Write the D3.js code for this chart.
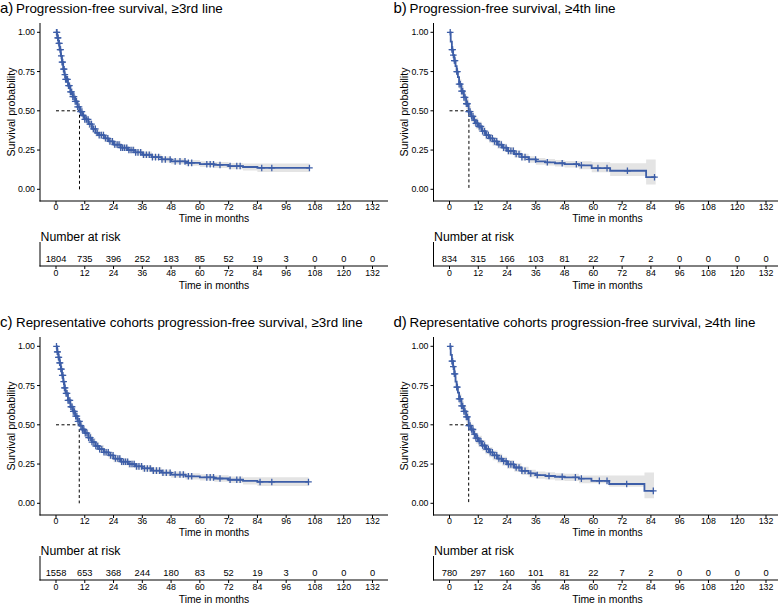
<!DOCTYPE html>
<html><head><meta charset="utf-8">
<script src="https://cdn.jsdelivr.net/npm/d3@7"></script>
<style>
html,body{margin:0;padding:0;background:#fff;}
svg{display:block;font-family:"Liberation Sans",Arial,Helvetica,sans-serif;}
</style></head>
<body>
<script>
// ---------- data ----------
const months = [0,12,24,36,48,60,72,84,96,108,120,132];
const yTicks = [0,0.25,0.5,0.75,1];
const yTickLabels = ["0.00","0.25","0.50","0.75","1.00"];

const panelLabels = ["a)","b)","c)","d)"];
const panelTitles = [
  "Progression-free survival, \u22653rd line",
  "Progression-free survival, \u22654th line",
  "Representative cohorts progression-free survival, \u22653rd line",
  "Representative cohorts progression-free survival, \u22654th line"
];

const riskA = [1804,735,396,252,183,85,52,19,3,0,0,0];
const riskB = [834,315,166,103,81,22,7,2,0,0,0,0];
const riskC = [1558,653,368,244,180,83,52,19,3,0,0,0];
const riskD = [780,297,160,101,81,22,7,2,0,0,0,0];

const medians = [9.8, 8.1, 9.7, 8.0];

const timesA = [0,0.5,1,1.5,2,2.5,3,3.5,4,5,6,7,8,9,10,11,12,13.5,15,16.5,18,20,22,24,27,30,33,36,40,44,48,54,60,66,72,78,84,105.7];
const survA  = [1,.965,.93,.89,.85,.81,.765,.73,.70,.66,.62,.59,.56,.525,.495,.47,.445,.415,.385,.36,.345,.325,.305,.285,.265,.25,.235,.22,.205,.19,.178,.168,.16,.155,.148,.142,.136,.136];
const loA    = [1,.957,.919,.876,.834,.792,.746,.709,.678,.637,.597,.566,.536,.501,.471,.446,.421,.391,.362,.337,.322,.303,.283,.263,.244,.229,.215,.2,.186,.171,.16,.15,.142,.136,.128,.12,.11,.11];
const hiA    = [1,.973,.941,.904,.866,.828,.784,.751,.722,.683,.643,.614,.584,.549,.519,.494,.469,.439,.408,.383,.368,.347,.327,.307,.286,.271,.255,.24,.224,.209,.196,.186,.178,.174,.168,.164,.165,.165];
const censA  = [0.2,0.4,0.7,0.9,1.2,1.4,1.7,1.9,2.2,2.5,2.8,3.1,3.4,3.7,4.0,4.4,4.8,5.2,5.6,6.0,6.5,7.0,7.5,8.0,8.5,9.0,9.6,10.2,10.8,11.4,12.0,12.7,13.4,14.1,14.8,15.6,16.4,17.2,18.0,18.9,19.8,20.7,21.6,22.5,23.5,24.5,25.5,26.3,27.0,27.8,28.6,29.5,30.4,31.3,32.2,33.2,34.2,35.3,36.5,37.7,38.9,40.2,41.5,42.8,44.2,45.6,47.6,49.7,51.7,53.8,55.2,56.6,62.9,64.3,65.7,68.4,72.6,75.4,76.8,85.8,90,105.7];

const timesB = [0,0.5,1,1.5,2,2.5,3,3.5,4,5,6,7,8,9,10,11,12,13.5,15,16.5,18,20,22,24,27,30,33,36,40,44,48,54,59.3,67,82,86];
const survB  = [1,.94,.89,.855,.82,.785,.75,.715,.67,.625,.585,.545,.495,.465,.44,.42,.40,.37,.345,.325,.305,.285,.265,.245,.225,.205,.19,.178,.172,.166,.16,.153,.135,.118,.077,.077];
const loB    = [1,.924,.869,.831,.794,.757,.721,.685,.639,.593,.552,.511,.46,.43,.405,.385,.37,.341,.317,.297,.278,.259,.24,.221,.202,.183,.169,.157,.151,.145,.139,.128,.108,.085,.03,.03];
const hiB    = [1,.956,.911,.879,.846,.813,.779,.745,.701,.657,.618,.579,.53,.5,.475,.455,.43,.399,.373,.353,.332,.311,.29,.269,.248,.227,.211,.199,.193,.187,.181,.178,.172,.166,.19,.19];
const censB  = [0.3,1.0,1.3,1.6,2.0,2.3,3.0,3.3,4.0,4.5,5.0,5.5,6.0,6.5,7.0,7.5,8.0,8.6,9.2,9.8,10.4,11.0,11.7,12.4,13.1,13.8,14.6,15.4,16.2,17.0,17.9,18.8,19.7,20.6,21.6,22.6,23.6,24.6,25.6,26.6,27.8,29.0,30.2,31.5,33.2,35.9,40.8,47.0,52.9,55.0,61.9,65.7,74.2,85.5];

const timesC = [0,0.5,1,1.5,2,2.5,3,3.5,4,5,6,7,8,9,10,11,12,13.5,15,16.5,18,20,22,24,27,30,33,36,40,44,48,54,60,66,72,78,84,105.3];
const survC  = [1,.965,.93,.895,.855,.815,.775,.735,.70,.655,.615,.585,.555,.522,.495,.47,.447,.418,.39,.365,.345,.325,.305,.285,.265,.25,.235,.222,.208,.195,.183,.172,.165,.158,.15,.143,.136,.136];
const loC    = [1,.956,.918,.88,.838,.796,.755,.713,.677,.631,.591,.56,.53,.497,.47,.445,.422,.393,.366,.341,.321,.302,.282,.262,.243,.228,.214,.201,.187,.174,.163,.152,.145,.137,.129,.12,.11,.11];
const hiC    = [1,.974,.942,.91,.872,.834,.795,.757,.723,.679,.639,.61,.58,.547,.52,.495,.472,.443,.414,.389,.369,.348,.328,.308,.287,.272,.256,.243,.229,.216,.203,.192,.185,.179,.171,.166,.166,.166];
const censC  = [0.2,0.5,0.7,1.0,1.2,1.5,1.7,2.0,2.3,2.6,2.9,3.2,3.5,3.8,4.2,4.6,5.0,5.4,5.8,6.2,6.7,7.2,7.7,8.2,8.7,9.2,9.8,10.4,11.0,11.6,12.2,12.9,13.6,14.3,15.0,15.8,16.6,17.4,18.2,19.1,20.0,20.9,21.8,22.8,23.8,24.8,25.8,26.6,27.4,28.2,29.0,29.9,30.8,31.7,32.6,33.6,34.6,35.7,36.9,38.1,39.3,40.6,41.9,43.2,44.6,46.0,47.6,49.7,51.7,53.1,55.2,56.6,62.9,64.3,65.7,68.4,72.6,75.4,76.8,85.1,90,105.3];

const timesD = [0,0.5,1,1.5,2,2.5,3,3.5,4,5,6,7,8,9,10,11,12,13.5,15,16.5,18,20,22,24,27,30,33,36,40,44,48,54,59.2,66.6,81.3,85.3];
const survD  = [1,.945,.905,.87,.825,.775,.74,.705,.665,.62,.585,.55,.495,.47,.44,.415,.395,.368,.345,.325,.305,.285,.268,.248,.228,.207,.19,.18,.174,.169,.165,.157,.143,.123,.079,.079];
const loD    = [1,.928,.883,.845,.798,.746,.71,.674,.633,.587,.551,.515,.459,.434,.404,.38,.36,.334,.312,.293,.274,.255,.239,.22,.201,.181,.166,.157,.151,.146,.142,.128,.128,.106,.032,.032];
const hiD    = [1,.962,.927,.895,.852,.804,.77,.736,.697,.653,.619,.585,.531,.506,.476,.45,.43,.402,.378,.357,.336,.315,.297,.276,.255,.233,.214,.203,.197,.192,.188,.177,.177,.177,.196,.196];
const censD  = [0.3,1.0,1.3,1.6,2.0,2.3,3.0,3.3,4.0,4.5,5.0,5.5,6.0,6.5,7.0,7.5,8.0,8.6,9.2,9.8,10.4,11.0,11.7,12.4,13.1,13.8,14.6,15.4,16.2,17.0,17.9,18.8,19.7,20.6,21.6,22.6,23.6,24.6,25.6,26.6,27.8,29.0,30.2,31.5,33.9,36.6,41.5,47.0,52.5,55.0,62.5,65.7,73.9,85.0];

// ---------- drawing ----------
const W = 778, H = 604;
const lineColor = "#3D5EA8";
const bandColor = "#E4E4E4";
const svg = d3.select("body").append("svg").attr("width", W).attr("height", H);

const panels = [
  {ox:0,     oy:0,   times:timesA, surv:survA, lo:loA, hi:hiA, cens:censA, risk:riskA},
  {ox:393.5, oy:0,   times:timesB, surv:survB, lo:loB, hi:hiB, cens:censB, risk:riskB},
  {ox:0,     oy:314, times:timesC, surv:survC, lo:loC, hi:hiC, cens:censC, risk:riskC},
  {ox:393.5, oy:314, times:timesD, surv:survD, lo:loD, hi:hiD, cens:censD, risk:riskD}
];

panels.forEach((p, k) => {
  const g = svg.append("g").attr("transform", `translate(${p.ox},${p.oy})`);
  const x = d3.scaleLinear().domain([0,132]).range([56, 372.5]);
  const y = d3.scaleLinear().domain([0,1]).range([189.3, 32.3]);

  // title
  g.append("text").attr("x", 0).attr("y", 13).attr("font-size", 15).attr("fill", "#000").text(panelLabels[k]);
  g.append("text").attr("x", 16).attr("y", 12.5).attr("font-size", 13.4).attr("fill", "#000").text(panelTitles[k]);

  const data = p.times.map((t,i) => ({t, s:p.surv[i], lo:p.lo[i], hi:p.hi[i]}));

  // CI band
  g.append("path").datum(data)
    .attr("d", d3.area().curve(d3.curveStepAfter).x(d => x(d.t)).y0(d => y(d.lo)).y1(d => y(d.hi)))
    .attr("fill", bandColor).attr("stroke", "none");

  // median lines
  const med = medians[k];
  g.append("path")
    .attr("d", `M${x(0)},${y(0.5)}H${x(med)}V${y(0)}`)
    .attr("fill","none").attr("stroke","#000").attr("stroke-width",1).attr("stroke-dasharray","3,2.5");

  // survival curve
  g.append("path").datum(data)
    .attr("d", d3.line().curve(d3.curveStepAfter).x(d => x(d.t)).y(d => y(d.s)))
    .attr("fill","none").attr("stroke", lineColor).attr("stroke-width", 1.8);

  // censor marks
  const sAt = t => p.surv[Math.max(0, d3.bisectRight(p.times, t) - 1)];
  g.append("g").selectAll("path").data(p.cens).join("path")
    .attr("d", t => { const cx = x(t), cy = y(sAt(t)); return `M${cx-3.3},${cy}H${cx+3.3}M${cx},${cy-3.3}V${cy+3.3}`; })
    .attr("stroke", lineColor).attr("stroke-width", 1.3).attr("fill","none");

  // axes
  const ax = g.append("g").attr("stroke", "#000").attr("stroke-width", 1);
  ax.append("line").attr("x1", 40).attr("x2", 40).attr("y1", 23).attr("y2", 201.5);
  ax.append("line").attr("x1", 39.5).attr("x2", 388).attr("y1", 201).attr("y2", 201);
  months.forEach(m => ax.append("line").attr("x1", x(m)).attr("x2", x(m)).attr("y1", 201).attr("y2", 204));
  yTicks.forEach(v => ax.append("line").attr("x1", 37).attr("x2", 40).attr("y1", y(v)).attr("y2", y(v)));

  g.append("g").selectAll("text").data(months).join("text")
    .attr("x", m => x(m)).attr("y", 209.5).attr("text-anchor","middle").attr("font-size", 8.8).text(m => m);
  g.append("g").selectAll("text").data(yTicks).join("text")
    .attr("x", 35).attr("y", v => y(v) + 3).attr("text-anchor","end").attr("font-size", 8.8).text((v,i) => yTickLabels[i]);
  g.append("text").attr("x", 214).attr("y", 221.5).attr("text-anchor","middle").attr("font-size", 10.4).text("Time in months");
  g.append("text").attr("transform", "translate(14.5,112) rotate(-90)").attr("text-anchor","middle").attr("font-size", 10.6).text("Survival probability");

  // risk table
  g.append("text").attr("x", 40.5).attr("y", 240.5).attr("font-size", 12.3).text("Number at risk");
  g.append("g").selectAll("text").data(p.risk).join("text")
    .attr("x", (v,i) => x(months[i])).attr("y", 261.5).attr("text-anchor","middle").attr("font-size", 9.3).text(v => v);
  const rx = g.append("g").attr("stroke", "#000").attr("stroke-width", 1);
  rx.append("line").attr("x1", 40).attr("x2", 40).attr("y1", 242).attr("y2", 266.5);
  rx.append("line").attr("x1", 39.5).attr("x2", 388).attr("y1", 266).attr("y2", 266);
  months.forEach(m => rx.append("line").attr("x1", x(m)).attr("x2", x(m)).attr("y1", 266).attr("y2", 269));
  g.append("g").selectAll("text").data(months).join("text")
    .attr("x", m => x(m)).attr("y", 276.3).attr("text-anchor","middle").attr("font-size", 8.8).text(m => m);
  g.append("text").attr("x", 214).attr("y", 288.8).attr("text-anchor","middle").attr("font-size", 10.4).text("Time in months");
});
</script>
</body></html>
